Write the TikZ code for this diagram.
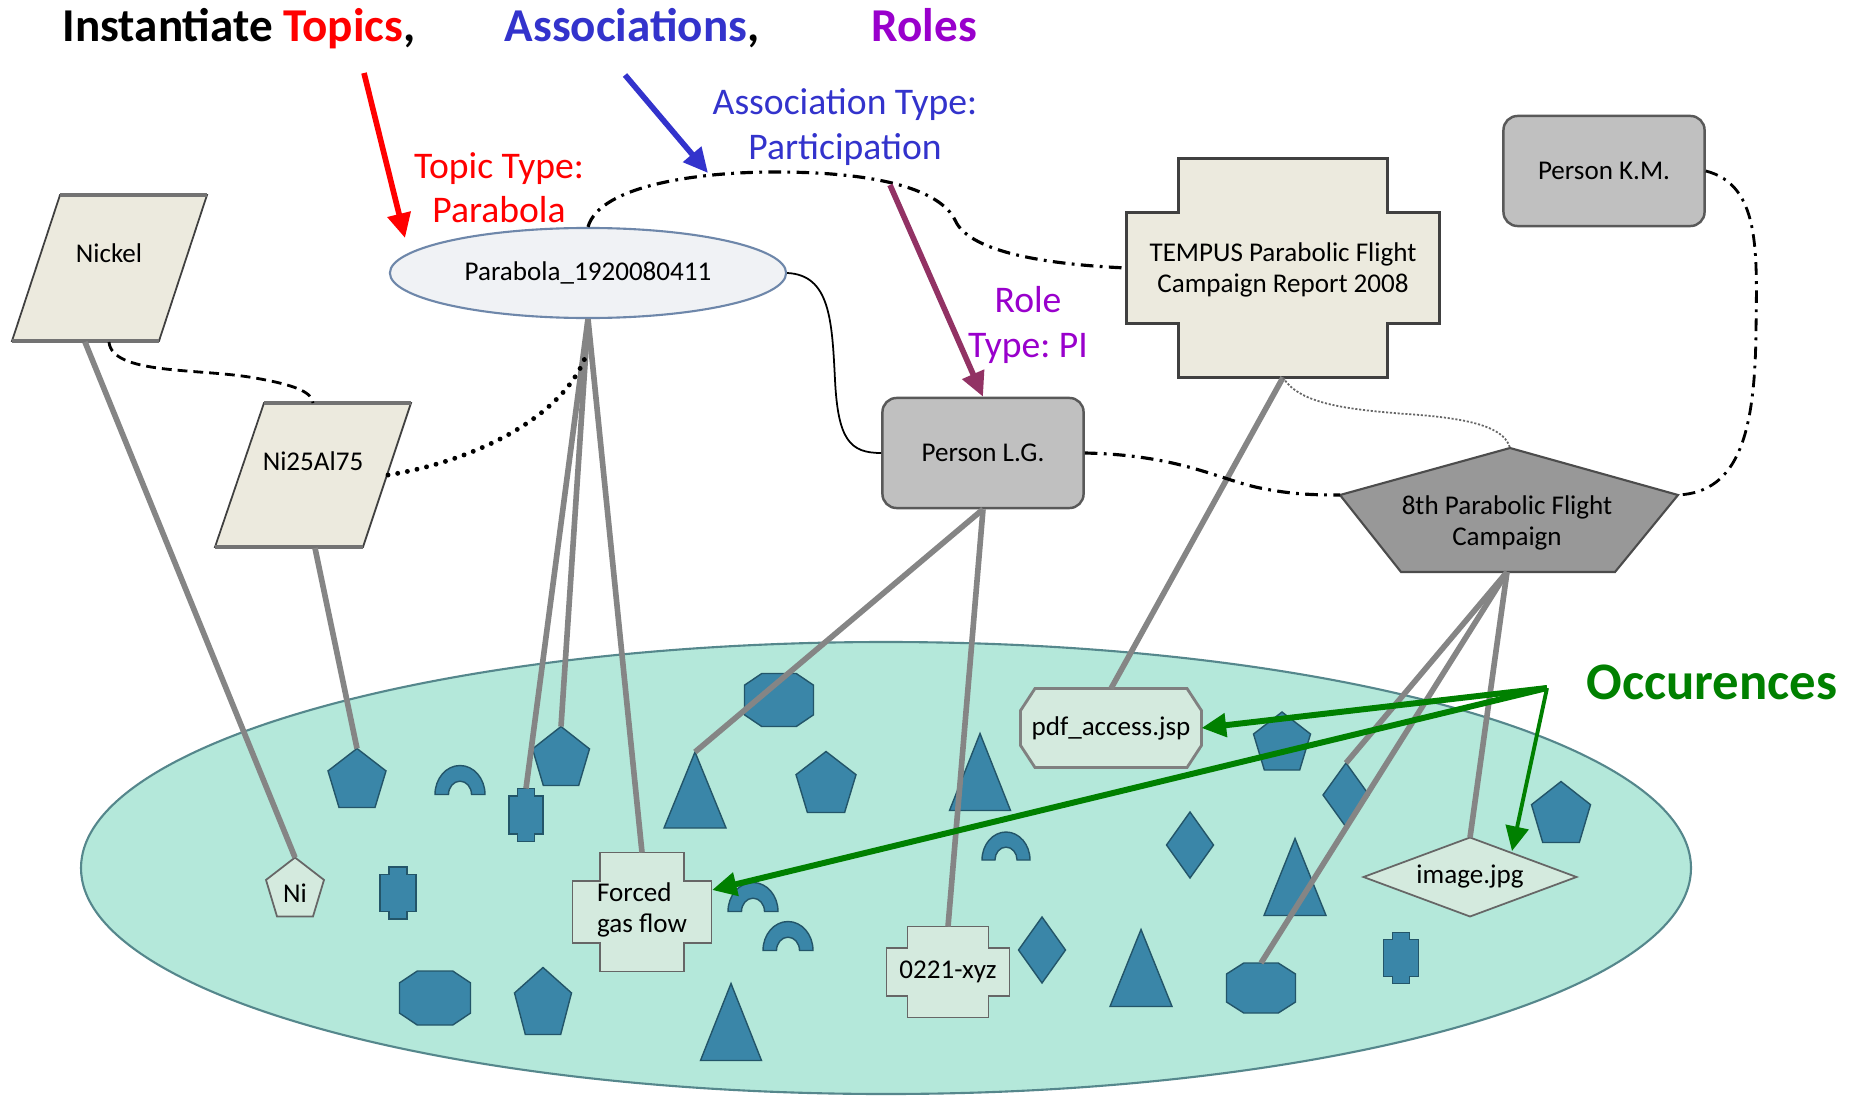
\documentclass[tikz,border=0pt]{standalone}
\usepackage{fontspec}
\setmainfont{Carlito}
\usetikzlibrary{arrows.meta,shapes.geometric}
\frenchspacing
\definecolor{topicfill}{RGB}{236,234,222}
\definecolor{persfill}{RGB}{192,192,192}
\definecolor{campfill}{RGB}{152,152,152}
\definecolor{poolfill}{RGB}{180,232,218}
\definecolor{pooledge}{RGB}{85,135,140}
\definecolor{occfill}{RGB}{58,134,168}
\definecolor{occedge}{RGB}{35,85,105}
\definecolor{occlight}{RGB}{212,234,222}
\definecolor{linkgray}{RGB}{133,133,133}
\definecolor{tblue}{RGB}{51,51,204}
\definecolor{tpurple}{RGB}{153,0,204}
\definecolor{rolearrow}{RGB}{146,50,100}
\definecolor{occgreen}{RGB}{0,128,0}
\newcommand\shapefont{\fontsize{7.7pt}{9pt}\selectfont}
\newcommand\titlefont{\fontsize{13.4pt}{15pt}\selectfont\bfseries}
\newcommand\typefont{\fontsize{10.7pt}{12.6pt}\selectfont}
\tikzset{
  oct dx/.store in=\octdx,
  oct dy/.store in=\octdy,
  oct dx=0.25,
  oct dy=0.22,
  cross bar/.store in=\crossbar,
  cross arm/.store in=\crossarm,
  cross bar=0.3,
  cross arm=0.26,
}
\tikzset{
  occ/.style={fill=occfill, draw=occedge, line width=0.4pt},
  occlabel/.style={fill=occlight, draw=black!60, line width=0.5pt},
  topic/.style={fill=topicfill, draw=black!75, line width=0.5pt},
  occ style/.style={occ},
  topicedge/.style={draw=black!55, line width=1.3pt},
  person/.style={rectangle, rounded corners=4pt, fill=persfill, draw=black!65,
    line width=0.7pt, minimum width=2.01cm, minimum height=1.1cm, font=\shapefont},
  shapetext/.style={font=\shapefont, align=center, inner sep=0pt},
  typelabel/.style={font=\typefont, align=center, inner sep=0pt},
  link/.style={linkgray, line width=1.6pt},
  assoc/.style={line width=0.9pt, dash pattern=on 3.6pt off 1.8pt on 0.8pt off 1.8pt},
  pointer/.style={line width=1.6pt, -{Triangle[length=7pt,width=6.5pt]}},
  occpent/.pic={
    \path[occ style] (0,-0.5) -- (0.5,-0.12) -- (0.31,0.5) -- (-0.31,0.5) -- (-0.5,-0.12) -- cycle;
    \coordinate (-top) at (0,-0.5);
  },
  occtri/.pic={
    \path[occ style] (0,-0.5) -- (0.5,0.5) -- (-0.5,0.5) -- cycle;
    \coordinate (-top) at (0,-0.5);
  },
  occdiam/.pic={
    \path[occ style] (0,-0.5) -- (0.5,0) -- (0,0.5) -- (-0.5,0) -- cycle;
    \coordinate (-top) at (0,-0.5);
  },
  occoct/.pic={
    \path[occ style] (-0.5+\octdx,-0.5) -- (0.5-\octdx,-0.5) -- (0.5,-0.5+\octdy) -- (0.5,0.5-\octdy)
      -- (0.5-\octdx,0.5) -- (-0.5+\octdx,0.5) -- (-0.5,0.5-\octdy) -- (-0.5,-0.5+\octdy) -- cycle;
    \coordinate (-top) at (0,-0.5);
    \coordinate (-right) at (0.5,0);
  },
  occarch/.pic={
    \path[occ style] (-0.5,0.5) arc[start angle=180, end angle=360, x radius=0.5, y radius=1]
      -- (0.23,0.5) arc[start angle=0, end angle=-180, x radius=0.23, y radius=0.46] -- cycle;
  },
  occplus/.pic={
    \path[occ style] (-0.25,-0.5) -- (0.25,-0.5) -- (0.25,-0.36) -- (0.5,-0.36) -- (0.5,0.36) -- (0.25,0.36)
      -- (0.25,0.5) -- (-0.25,0.5) -- (-0.25,0.36) -- (-0.5,0.36) -- (-0.5,-0.36) -- (-0.25,-0.36) -- cycle;
    \coordinate (-top) at (0,-0.5);
  },
  crossbox/.pic={
    \path[occ style] (-\crossbar,-0.5) -- (\crossbar,-0.5) -- (\crossbar,-\crossarm) -- (0.5,-\crossarm)
      -- (0.5,\crossarm) -- (\crossbar,\crossarm) -- (\crossbar,0.5) -- (-\crossbar,0.5)
      -- (-\crossbar,\crossarm) -- (-0.5,\crossarm) -- (-0.5,-\crossarm) -- (-\crossbar,-\crossarm) -- cycle;
    \coordinate (-top) at (0,-0.5);
    \coordinate (-bottom) at (0,0.5);
    \coordinate (-left) at (-0.5,0);
  },
}

\begin{document}
\begin{tikzpicture}[x=0.01cm, y=-0.01cm]
\useasboundingbox[fill=white] (0,0) rectangle (1864,1097);

% the pool of occurrences
\filldraw[fill=poolfill, draw=pooledge, line width=0.6pt] (886,868) ellipse [x radius=805, y radius=226];

\pic[xscale=58, yscale=59] (pentA) at (357,778) {occpent};
\pic[xscale=57, yscale=59] (pentB) at (561,756) {occpent};
\pic[xscale=60, yscale=61] at (826,782) {occpent};
\pic[xscale=57, yscale=67] at (543,1001) {occpent};
\pic[xscale=57, yscale=58] at (1282,741) {occpent};
\pic[xscale=59, yscale=61] at (1561,812) {occpent};
\pic[xscale=69, yscale=53] at (779,700) {occoct};
\pic[xscale=71, yscale=54] at (435,998) {occoct};
\pic[xscale=69, yscale=50] (octC) at (1261,988) {occoct};
\pic[xscale=62, yscale=76] (triA) at (695,790) {occtri};
\pic[xscale=61, yscale=77] at (980,772) {occtri};
\pic[xscale=62, yscale=77] at (1295,877) {occtri};
\pic[xscale=62, yscale=77] at (1141,968) {occtri};
\pic[xscale=61, yscale=77] at (731,1022) {occtri};
\pic[xscale=50, yscale=29] at (460,780) {occarch};
\pic[xscale=50, yscale=29] at (753,897) {occarch};
\pic[xscale=50, yscale=29] at (788,936) {occarch};
\pic[xscale=48, yscale=28] at (1006,846) {occarch};
\pic[xscale=34, yscale=53] (plusA) at (526,815) {occplus};
\pic[xscale=36, yscale=52] at (398,893) {occplus};
\pic[xscale=35, yscale=51] at (1401,958) {occplus};
\pic[xscale=47, yscale=66] at (1190,845) {occdiam};
\pic[xscale=47, yscale=66] at (1042,950) {occdiam};
\pic[xscale=46, yscale=64] (diamC) at (1346,795) {occdiam};

% occurrences with a name
\pic[occ style/.style=occlabel, xscale=58, yscale=59] (ni) at (295,887) {occpent};
\node[shapetext] (nitext) at (295,893) {Ni};
\pic[occ style/.style=occlabel, cross bar=0.30, cross arm=0.26, xscale=139, yscale=119] (forced) at (642,912) {crossbox};
\node[shapetext, align=left] (forcedtext) at (642,910) {Forced\\gas flow};
\pic[occ style/.style=occlabel, cross bar=0.33, cross arm=0.26, xscale=123, yscale=91] (xyz) at (948,972) {crossbox};
\node[shapetext] (xyztext) at (948,972) {0221-xyz};
\pic[occ style/.style={occlabel, draw=black!50, line width=0.8pt}, oct dx=0.08, oct dy=0.28, xscale=181, yscale=79] (pdf) at (1111,728) {occoct};
\node[shapetext] (pdftext) at (1111,728) {pdf\_access.jsp};
\pic[occ style/.style=occlabel, xscale=213, yscale=79] (img) at (1470,877) {occdiam};
\node[shapetext] (imgtext) at (1470,877) {image.jpg};

% topics
\filldraw[topic] (60,195) -- (207,195) -- (159,341) -- (12,341) -- cycle;
\draw[topicedge] (60,195) -- (207,195) (159,341) -- (12,341);
\node[shapetext] (nickel) at (109,253) {Nickel};
\filldraw[topic] (264,403) -- (411,403) -- (363,547) -- (215,547) -- cycle;
\draw[topicedge] (264,403) -- (411,403) (363,547) -- (215,547);
\node[shapetext] (nial) at (313,461) {Ni25Al75};
\coordinate (nickelB) at (85,342);
\coordinate (nickelD) at (109,342);
\coordinate (nialT) at (313,403);
\coordinate (nialB) at (315,548);
\coordinate (nialR) at (388,475);

\node[ellipse, draw={rgb,255:red,110;green,135;blue,170}, fill={rgb,255:red,240;green,242;blue,245},
  line width=0.6pt, minimum width=3.96cm, minimum height=0.9cm, inner sep=0pt, font=\shapefont]
  (parabola) at (588,273) {Parabola\_1920080411};
\coordinate (parabolaLow) at (585,358);

\pic[occ style/.style={topic, line width=0.7pt}, cross bar=0.334, cross arm=0.253, xscale=313, yscale=219] (tempus) at (1283,268) {crossbox};
\node[shapetext] (tempustext) at (1283,270) {TEMPUS Parabolic Flight\\Campaign Report 2008};

\node[person] (lg) at (983,453) {Person L.G.};
\node[person] (km) at (1604,171) {Person K.M.};

\coordinate (campT) at (1510,448);
\coordinate (campR) at (1678,495);
\coordinate (campL) at (1340,495);
\coordinate (campB) at (1507,572);
\filldraw[fill=campfill, draw=black!70, line width=0.6pt] (campT) -- (campR) -- (1615,572) -- (1401,572) -- (campL) -- cycle;
\node[shapetext] (camp) at (1507,523) {8th Parabolic Flight\\Campaign};

% occurrence links
\draw[link] (nickelB) -- (ni-top);
\draw[link] (nialB) -- (pentA-top);
\foreach \t in {plusA,pentB,forced}
  \draw[link] (parabola.south) -- (\t-top);
\foreach \t in {triA,xyz}
  \draw[link] (lg.south) -- (\t-top);
\draw[link] (tempus-bottom) -- (pdf-top);
\foreach \t in {diamC,octC,img}
  \draw[link] (campB) -- (\t-top);

% associations
\draw[assoc] (parabola.north) .. controls (600,185) and (700,172) .. (775,172)
  .. controls (880,172) and (940,190) .. (955,220) .. controls (970,255) and (1060,265) .. (tempus-left);
\draw[assoc] (lg.east) .. controls (1180,455) and (1220,480) .. (1260,488)
  .. controls (1290,494) and (1310,495) .. (campL);
\draw[assoc, line width=0.8pt] (km.east) .. controls (1760,185) and (1757,250) .. (1756,330)
  .. controls (1755,430) and (1740,492) .. (campR);
\draw[line width=0.5pt] (parabola.east) .. controls (830,275) and (832,320) .. (835,380)
  .. controls (838,440) and (850,453) .. (lg.west);
\draw[line width=0.8pt, dash pattern=on 2.8pt off 1.7pt] (nickelD) .. controls (112,375) and (200,368) .. (255,378)
  .. controls (295,385) and (312,392) .. (nialT);
\draw[line width=1.4pt, line cap=round, dash pattern=on 0pt off 2.8pt] (nialR) .. controls (470,462) and (560,420) .. (parabolaLow);
\draw[black!60, line width=0.5pt, dash pattern=on 0.6pt off 0.5pt] (tempus-bottom) .. controls (1300,405) and (1350,410) .. (1420,415)
  .. controls (1480,420) and (1505,430) .. (campT);

% titles and types
\node[font=\titlefont, anchor=base west, inner sep=0pt] (title) at (62,42) {Instantiate \textcolor{red}{Topics},};
\node[font=\titlefont, anchor=base west, inner sep=0pt, text=tblue] (assoctitle) at (504,42) {Associations\textcolor{black}{,}};
\node[font=\titlefont, anchor=base west, inner sep=0pt, text=tpurple] (roletitle) at (871,42) {Roles};
\node[typelabel, text=red] (topictype) at (499,188) {Topic Type:\\Parabola};
\node[typelabel, text=tblue] (assoctype) at (845,127) {Association Type:\\Participation};
\node[typelabel, text=tpurple] (roletype) at (1028,325) {Role\\Type: PI};
\node[font=\fontsize{15pt}{18pt}\selectfont\bfseries, text=occgreen, inner sep=0pt] (occtitle) at (1712,682) {Occurences};

\coordinate (topicsA) at (364,73);
\coordinate (topicsB) at (405,238);
\coordinate (assocA) at (625,75);
\coordinate (assocB) at (708,173);
\coordinate (roleA) at (890,185);
\draw[pointer, red] (topicsA) -- (topicsB);
\draw[pointer, tblue] (assocA) -- (assocB);
\draw[pointer, rolearrow] (roleA) -- (lg.north);

\coordinate (occsrc) at (1547,688);
\coordinate (forcedTip) at (712,890);
\coordinate (imgTip) at (1512,851);
\draw[pointer, occgreen, line width=1.7pt] (occsrc) -- (pdf-right);
\draw[pointer, occgreen, line width=1.7pt] (occsrc) -- (forcedTip);
\draw[pointer, occgreen, line width=1.1pt] (occsrc) -- (imgTip);
\end{tikzpicture}
\end{document}
